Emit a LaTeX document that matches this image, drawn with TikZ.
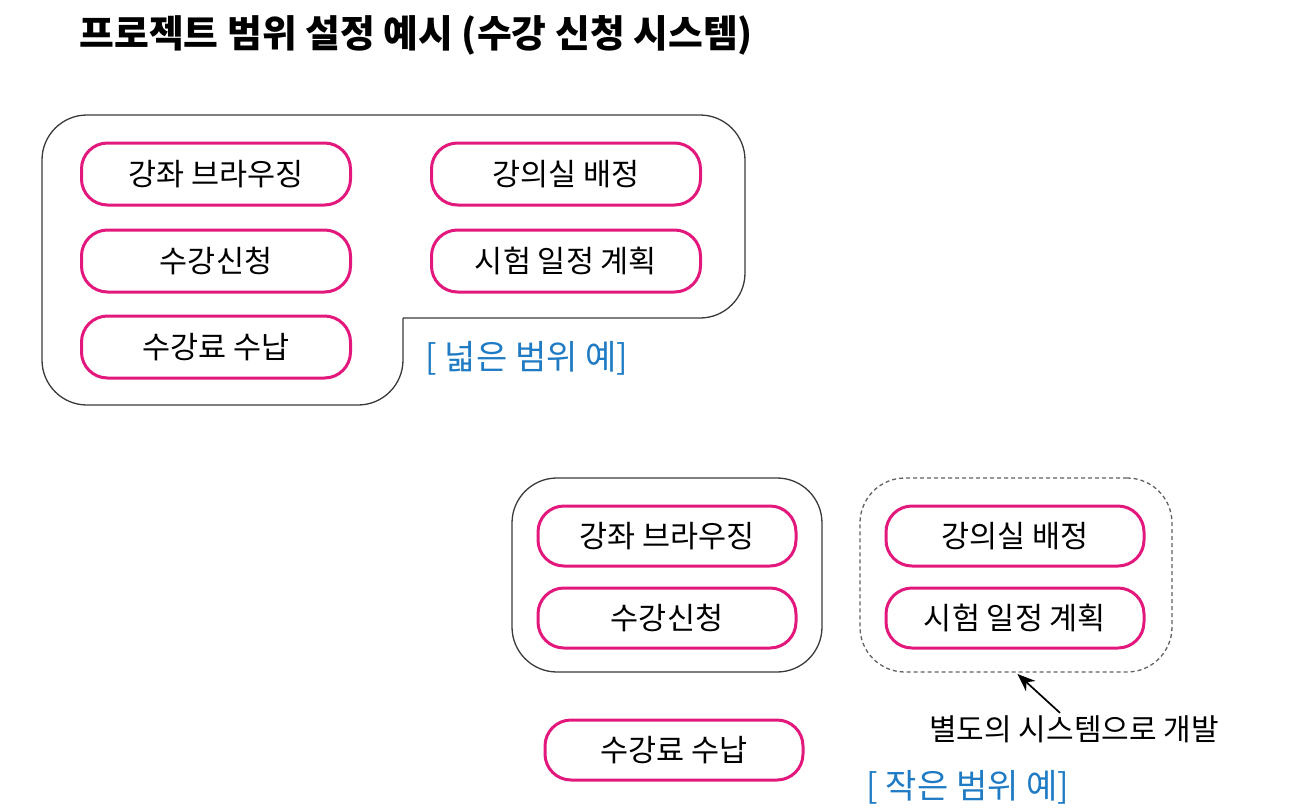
\documentclass[tikz,border=0pt]{standalone}
\usepackage{fontspec}
\setmainfont{Noto Sans CJK KR}
\usetikzlibrary{arrows.meta}

\definecolor{pillpink}{HTML}{E2187C}
\definecolor{noteblue}{HTML}{1F7BC4}
\definecolor{boxgray}{HTML}{3A3A3A}

\newcommand*{\pillw}{269}
\newcommand*{\pillh}{62}
\newcommand*{\smallw}{258}
\newcommand*{\smallh}{60}

\begin{document}
\begin{tikzpicture}[x=1pt,y=-1pt,
	pill/.style={draw=pillpink,line width=3pt,rounded corners=26pt,inner sep=0pt,
		minimum width=\pillw pt,minimum height=\pillh pt,font=\fontsize{30.5}{34}\selectfont},
	smallpill/.style={pill,minimum width=\smallw pt,minimum height=\smallh pt},
	scopeline/.style={draw=boxgray,line width=1.3pt,rounded corners=45pt},
	caption/.style={text=noteblue,font=\fontsize{34}{38}\selectfont},
	note/.style={font=\fontsize{30}{34}\selectfont}]

	\useasboundingbox (0,0) rectangle (1294,809);

	\node[anchor=west,font=\fontsize{37.8}{42}\selectfont\bfseries] (title) at (76,35) {프로젝트 범위 설정 예시 (수강 신청 시스템)};

	% wide scope
	\draw[scopeline] (403,318) -- (745,318) -- (745,115) -- (42,115) -- (42,405) -- (403,405) -- (403,318);

	\node[pill] (wbrowse) at (216,174) {강좌 브라우징};
	\node[pill] (wapply) at (216,261) {수강신청};
	\node[pill] (wpay) at (216,347) {수강료 수납};
	\node[pill] (wroom) at (566,174) {강의실 배정};
	\node[pill] (wexam) at (566,261) {시험 일정 계획};

	\node[caption] (widecap) at (527,358) {[ 넓은 범위 예]};

	% small scope
	\node[scopeline,minimum width=310pt,minimum height=194pt] (corebox) at (667,575) {};
	\node[scopeline,draw=boxgray!80,dash pattern=on 4pt off 3pt,minimum width=312pt,minimum height=194pt] (sepbox) at (1016,575) {};

	\node[smallpill] (sbrowse) at (667,536) {강좌 브라우징};
	\node[smallpill] (sapply) at (667,618) {수강신청};
	\node[smallpill] (spay) at (674,750) {수강료 수납};
	\node[smallpill] (sroom) at (1015,536) {강의실 배정};
	\node[smallpill] (sexam) at (1015,618) {시험 일정 계획};

	\node[note] (sepnote) at (1074,729) {별도의 시스템으로 개발};
	\draw[-{Stealth[length=18pt,width=14pt]},line width=1.7pt,shorten >=2pt] ([xshift=-14pt,yshift=-1pt]sepnote.north) -- (sepbox.south);

	\node[caption] (smallcap) at (968,787) {[ 작은 범위 예]};

\end{tikzpicture}
\end{document}
